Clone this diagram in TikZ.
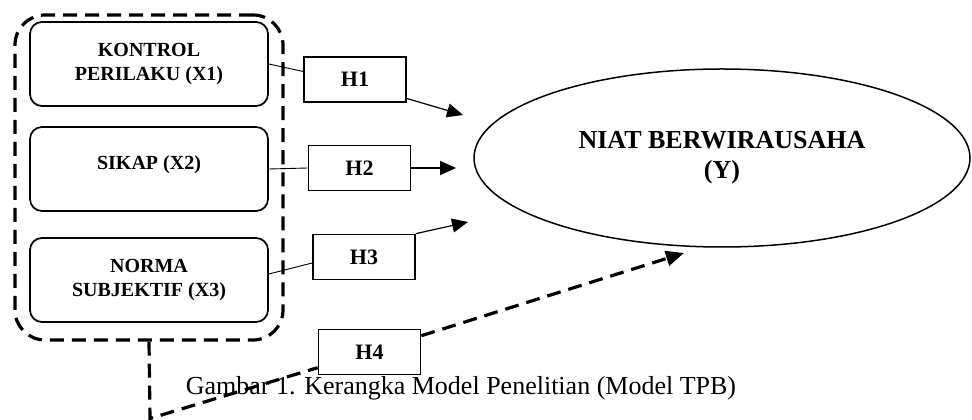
\documentclass[tikz,border=0pt]{standalone}
\usepackage{fontspec}
\setmainfont{Liberation Serif}
\usetikzlibrary{shapes.geometric, arrows.meta}
\tikzset{
	modelnode/.style = {text centered, draw=black, line width=1.7pt},
	varbox/.style = {rectangle, rounded corners=12pt, modelnode, minimum width=238pt, minimum height=84pt, align=center, font=\fontsize{20}{24}\selectfont\bfseries},
	hypobox/.style = {rectangle, modelnode, fill=white, minimum width=102pt, minimum height=45pt, font=\fontsize{22}{26}\selectfont\bfseries},
	outcome/.style = {ellipse, modelnode, line width=1.5pt, minimum width=496pt, minimum height=178pt, align=center, font=\fontsize{26}{30}\selectfont\bfseries},
	groupbox/.style = {rectangle, rounded corners=30pt, draw=black, line width=3.2pt, dash pattern=on 14pt off 8pt, minimum width=268pt, minimum height=325pt},
	thinlink/.style = {draw, line width=0.9pt},
	line/.style = {draw, line width=1.2pt, -{Triangle[length=16pt, width=14pt]}},
	dashline/.style = {draw, line width=3.2pt, dash pattern=on 14pt off 8pt}
}

\begin{document}
\begin{tikzpicture}[x=1pt, y=1pt, node distance=105pt]
	\useasboundingbox (0,0) rectangle (972,420);
	% Define model's component
	\node (box1) [varbox] at (149,356) {KONTROL\\PERILAKU (X1)};
	\node (box2) [varbox, below of=box1] {\raisebox{12pt}{SIKAP (X2)}};
	\node (box3) [varbox, below of=box2, yshift=-6pt] {NORMA\\SUBJEKTIF (X3)};
	\node (grp) [groupbox] at (149,242.5) {};
	\node (h1) [hypobox] at (355,340.5) {H1};
	\node (h2) [hypobox] at (359.5,252) {H2};
	\node (h3) [hypobox] at (364,163) {H3};
	\node (h4) [hypobox] at (369.5,68) {H4};
	\node (niat) [outcome] at (722,262) {NIAT BERWIRAUSAHA\\(Y)};
	\node (caption) [anchor=base, font=\fontsize{26}{30}\selectfont] at (461,25) {Gambar 1. Kerangka Model Penelitian (Model TPB)};
	\coordinate (tip1) at (463,305);
	\coordinate (tip2) at (456,252);
	\coordinate (tip3) at (468,198);
	\coordinate (tip4) at (684,167);
	\coordinate (corner) at (150,1.5);

	% Define model's link
	\path [thinlink](box1.east) -- ([yshift=8pt]h1.west);
	\path [line]([yshift=-19pt]h1.east) -- (tip1);
	\path [thinlink](box2.east) -- (h2.west);
	\path [line](h2.east) -- (tip2);
	\path [thinlink]([yshift=6pt]box3.east) -- ([yshift=-6pt]h3.west);
	\path [line](h3.north east) -- (tip3);
	\path [dashline](grp.south) -- (corner) -- (h4);
	\path [dashline, -{Triangle[length=18pt, width=15pt]}](h4) -- (tip4);
\end{tikzpicture}
\end{document}
